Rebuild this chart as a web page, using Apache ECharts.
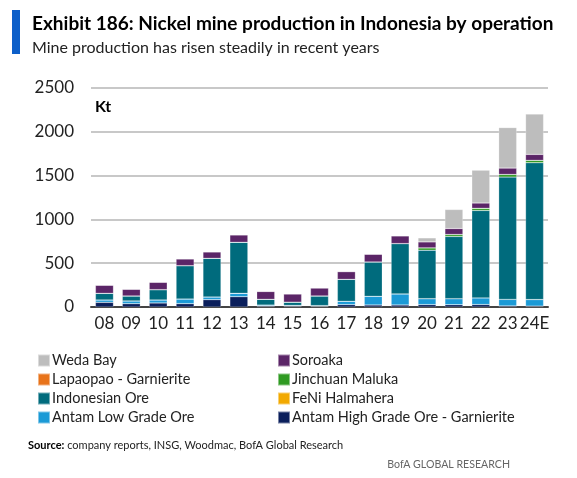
<!DOCTYPE html>
<html>
<head>
<meta charset="utf-8">
<script src="https://cdn.jsdelivr.net/npm/echarts@6/dist/echarts.min.js"></script>
<style>
  html, body { margin: 0; padding: 0; background: #fff; }
  #chart { width: 577px; height: 478px; }
</style>
</head>
<body>
<div id="chart"></div>
<script>
const categories = ['08','09','10','11','12','13','14','15','16','17','18','19','20','21','22','23','24E'];
const antamHigh = [53, 38, 46, 38, 84, 118, 10, 10, 8, 27, 23, 23, 27, 26, 28, 12, 10];
const antamLow  = [27, 31, 34, 53, 30, 38, 12, 8, 8, 38, 99, 126, 68, 69, 76, 75, 75];
const feniHalmahera = [0, 0, 0, 0, 0, 0, 0, 0, 0, 0, 0, 0, 0, 0, 0, 0, 0];
const indonesianOre = [76, 57, 118, 381, 442, 583, 66, 37, 110, 251, 392, 575, 553, 710, 998, 1396, 1562];
const jinchuanMaluka = [0, 0, 0, 0, 0, 0, 0, 0, 0, 0, 0, 0, 27, 23, 25, 30, 27];
const lapaopao = [0, 0, 0, 0, 0, 0, 0, 0, 0, 0, 0, 0, 0, 0, 0, 0, 0];
const soroaka = [92, 76, 84, 77, 73, 84, 89, 94, 91, 88, 88, 88, 68, 68, 60, 73, 68];
const wedaBay = [0, 0, 0, 0, 0, 0, 0, 0, 0, 0, 0, 0, 46, 217, 375, 462, 461];
const yTicks = [0, 500, 1000, 1500, 2000, 2500];

const FONT = 'Lato, "Open Sans", sans-serif';

const seriesDefs = [
  {name: 'Antam High Grade Ore - Garnierite', data: antamHigh, color: '#0b1f5c'},
  {name: 'Antam Low Grade Ore', data: antamLow, color: '#1b9ad6'},
  {name: 'FeNi Halmahera', data: feniHalmahera, color: '#f2a900'},
  {name: 'Indonesian Ore', data: indonesianOre, color: '#006b7d'},
  {name: 'Jinchuan Maluka', data: jinchuanMaluka, color: '#2f9a22'},
  {name: 'Lapaopao - Garnierite', data: lapaopao, color: '#e8731a'},
  {name: 'Soroaka', data: soroaka, color: '#5b2567'},
  {name: 'Weda Bay', data: wedaBay, color: '#bdbdbd'}
];

const chart = echarts.init(document.getElementById('chart'), null, {renderer: 'canvas'});

const legendCommon = {
  orient: 'vertical',
  top: 351,
  padding: 0,
  itemGap: 0,
  itemWidth: 12,
  itemHeight: 12,
  icon: 'rect',
  selectedMode: false,
  textStyle: {fontFamily: FONT, fontSize: 14.5, color: '#222', lineHeight: 19, padding: [0, 0, 0, -3]}
};

chart.setOption({
  animation: false,
  backgroundColor: '#fff',
  textStyle: {fontFamily: FONT},
  grid: {left: 91, right: 29, top: 88, bottom: 171, containLabel: false},
  legend: [
    Object.assign({}, legendCommon, {left: 37, data: ['Weda Bay', 'Lapaopao - Garnierite', 'Indonesian Ore', 'Antam Low Grade Ore']}),
    Object.assign({}, legendCommon, {left: 277, data: ['Soroaka', 'Jinchuan Maluka', 'FeNi Halmahera', 'Antam High Grade Ore - Garnierite']})
  ],
  xAxis: {
    type: 'category',
    data: categories,
    axisTick: {show: false},
    axisLine: {lineStyle: {color: '#444', width: 2}},
    axisLabel: {color: '#222', fontSize: 17, fontFamily: FONT, margin: 8, interval: 0}
  },
  yAxis: {
    type: 'value',
    min: yTicks[0],
    max: yTicks[yTicks.length - 1],
    interval: 500,
    axisLine: {show: false},
    axisTick: {show: false},
    axisLabel: {color: '#222', fontSize: 17, fontFamily: FONT, margin: 17, formatter: v => String(v)},
    splitLine: {lineStyle: {color: '#c8c8c8', width: 2}}
  },
  series: seriesDefs.map(s => ({
    name: s.name,
    type: 'bar',
    stack: 'total',
    data: s.data,
    barWidth: 18,
    itemStyle: {color: s.color, borderColor: 'rgba(255,255,255,0.45)', borderWidth: 0.5}
  })),
  graphic: [
    {type: 'rect', left: 12, top: 10, shape: {width: 8, height: 44}, style: {fill: '#0d5fc9'}},
    {type: 'text', left: 32, top: 14, style: {text: 'Exhibit 186: Nickel mine production in Indonesia by operation', font: 'bold 19px ' + FONT, fill: '#000'}},
    {type: 'text', left: 32, top: 40, style: {text: 'Mine production has risen steadily in recent years', font: '16px ' + FONT, fill: '#222'}},
    {type: 'text', left: 95, top: 99, style: {text: 'Kt', font: 'bold 16px ' + FONT, fill: '#000'}},
    {type: 'text', left: 28, top: 440, style: {
      text: '{b|Source:} company reports, INSG, Woodmac, BofA Global Research',
      rich: {b: {fontWeight: 'bold', fontSize: 11, fontFamily: FONT, fill: '#000'}},
      font: '11px ' + FONT, fill: '#222'}},
    {type: 'text', right: 67, top: 459, style: {text: 'BofA GLOBAL RESEARCH', font: '10.6px ' + FONT, fill: '#666'}}
  ]
});
</script>
</body>
</html>
